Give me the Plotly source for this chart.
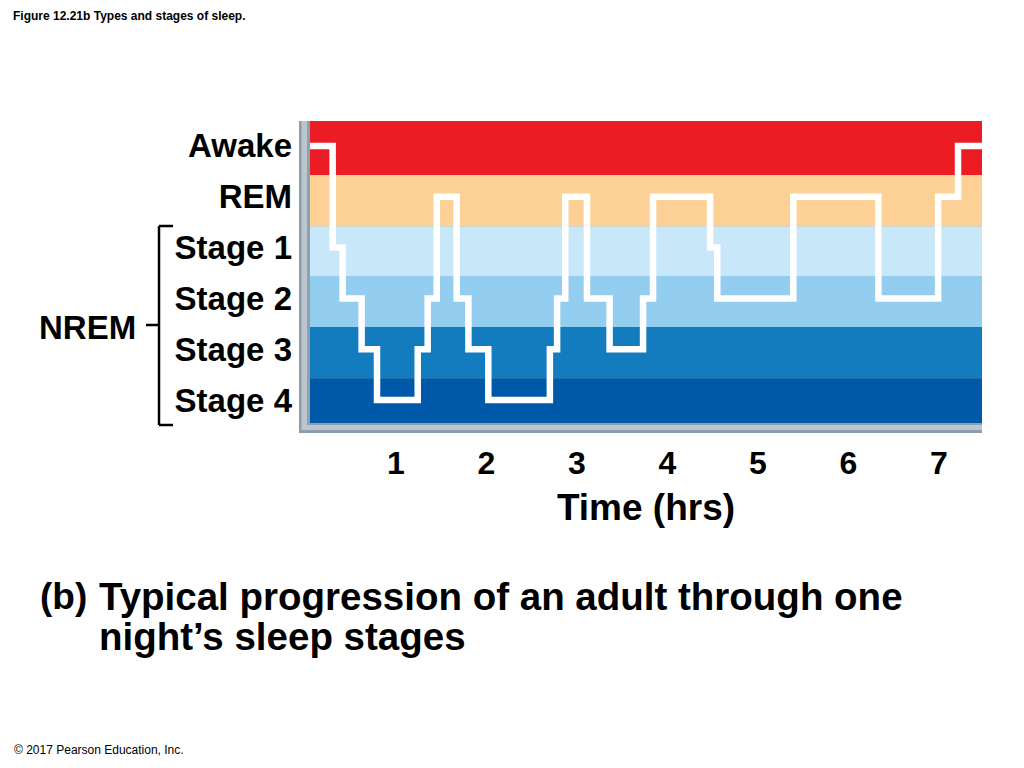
import plotly.graph_objects as go

# sleep hypnogram: time (hrs) at which each stage starts, and the stage
# stage codes: 0 = Stage 4, 1 = Stage 3, 2 = Stage 2, 3 = Stage 1, 4 = REM, 5 = Awake
times = [0.05, 0.30, 0.41, 0.62, 0.79, 1.24, 1.35, 1.45, 1.67, 1.80, 2.02,
         2.70, 2.78, 2.87, 3.11, 3.36, 3.73, 3.84, 4.47, 4.55, 5.39, 6.33,
         6.99, 7.21, 7.475]
stages = [5, 3, 2, 1, 0, 1, 2, 4, 2, 1, 0,
          1, 2, 4, 2, 1, 2, 4, 3, 2, 4, 2,
          4, 5, 5]

stage_names = ["Stage 4", "Stage 3", "Stage 2", "Stage 1", "REM", "Awake"]
stage_codes = [0, 1, 2, 3, 4, 5]
band_edges = [-0.45, 0.43, 1.44, 2.44, 3.42, 4.43, 5.49]
band_colors = ["#0058A8", "#127CBF", "#93CDEF", "#C8E7F9", "#FDD196", "#EC1C24"]

hours = [1, 2, 3, 4, 5, 6, 7]

# page puts the figure 8px in from the top-left corner
OFF = 8
W, H = 1024 - 2 * OFF, 768 - 2 * OFF
FONT = "Liberation Sans, Arial, sans-serif"


def px(x):
    return (x - OFF) / W


def py(y):
    return 1 - (y - OFF) / H


fig = go.Figure()

fig.add_trace(go.Scatter(
    x=times, y=stages, mode="lines", line_shape="hv",
    line=dict(color="white", width=6.5), hoverinfo="skip", showlegend=False,
))

shapes = []
# grey frame on left and bottom of the plot
shapes.append(dict(type="rect", xref="paper", yref="paper", layer="below",
                   x0=px(299), x1=px(982), y0=py(433), y1=py(121),
                   fillcolor="#8E9DAA", line_width=0))
shapes.append(dict(type="rect", xref="paper", yref="paper", layer="below",
                   x0=px(301.5), x1=px(982), y0=py(430), y1=py(121),
                   fillcolor="#BCC6CF", line_width=0))
shapes.append(dict(type="rect", xref="paper", yref="paper", layer="below",
                   x0=px(307), x1=px(982), y0=py(425), y1=py(121),
                   fillcolor="#8FA0AE", line_width=0))
# stage colour bands
for i, c in enumerate(band_colors):
    shapes.append(dict(type="rect", xref="x domain", yref="y", layer="below",
                       x0=0, x1=1, y0=band_edges[i], y1=band_edges[i + 1],
                       fillcolor=c, line_width=0))
# NREM bracket
bk = dict(type="line", xref="paper", yref="paper", line=dict(color="black", width=2.5))
shapes.append(dict(bk, x0=px(159), x1=px(159), y0=py(226), y1=py(425)))
shapes.append(dict(bk, x0=px(159), x1=px(173), y0=py(226), y1=py(226)))
shapes.append(dict(bk, x0=px(159), x1=px(173), y0=py(425), y1=py(425)))
shapes.append(dict(bk, x0=px(146), x1=px(159), y0=py(325), y1=py(325)))

annotations = [
    dict(text="Figure 12.21b Types and stages of sleep.", x=px(12), y=py(8),
         yanchor="top", borderpad=0, font=dict(size=12, weight="bold")),
    dict(text="NREM", x=px(37), y=py(328), font=dict(size=33, weight="bold")),
    dict(text="(b)", x=px(38), y=py(596), font=dict(size=37, weight="bold")),
    dict(text="Typical progression of an adult through one", x=px(97), y=py(596),
         font=dict(size=38.5, weight="bold")),
    dict(text="night\u2019s sleep stages", x=px(97), y=py(636),
         font=dict(size=38.5, weight="bold")),
    dict(text="\u00a9 2017 Pearson Education, Inc.", x=px(12), y=py(750),
         font=dict(size=12)),
]
for a in annotations:
    a.setdefault("yanchor", "middle")
    a.update(xref="paper", yref="paper", xanchor="left", showarrow=False)
    a["font"].update(family=FONT, color="black")

fig.update_layout(
    width=W, height=H,
    margin=dict(l=0, r=0, t=0, b=0),
    paper_bgcolor="white", plot_bgcolor="rgba(0,0,0,0)",
    shapes=shapes, annotations=annotations,
    font=dict(family=FONT, color="black"),
    xaxis=dict(
        domain=[px(310), px(982)], range=[0.0497, 7.475],
        tickvals=hours, ticktext=[str(h) for h in hours],
        tickfont=dict(size=32, weight="bold"), ticklabelstandoff=18,
        showgrid=False, zeroline=False, showline=False, ticks="",
        title=dict(text="Time (hrs)", font=dict(size=37, weight="bold"), standoff=14),
        fixedrange=True,
    ),
    yaxis=dict(
        domain=[py(423), py(121)], range=[-0.45, 5.49],
        tickvals=stage_codes, ticktext=stage_names,
        tickfont=dict(size=33, weight="bold"), ticklabelstandoff=17,
        showgrid=False, zeroline=False, showline=False, ticks="",
        fixedrange=True,
    ),
)

fig.write_html("out.html")
